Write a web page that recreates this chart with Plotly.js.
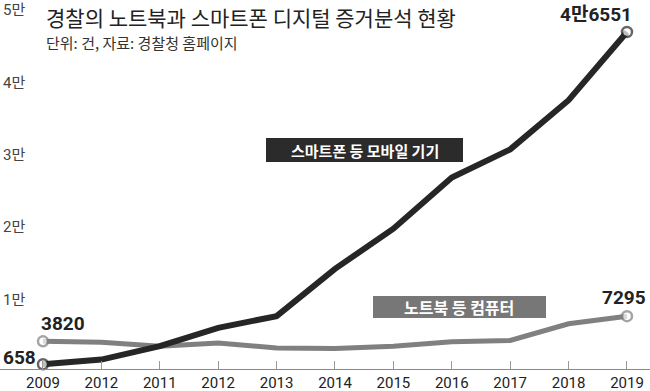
<!DOCTYPE html>
<html>
<head>
<meta charset="utf-8">
<script src="https://cdn.plot.ly/plotly-3.0.1.min.js"></script>
<style>html,body{margin:0;padding:0;background:#fff;}#chart{width:650px;height:391px;}</style>
</head>
<body>
<div id="chart"></div>
<script>
// ---- data ----
const yearLabels = ["2009","2012","2011","2012","2013","2014","2015","2016","2017","2018","2019"];
const mobileCounts = [658, 1300, 3150, 5690, 7300, 13830, 19380, 26450, 30330, 37130, 46551];
const computerCounts = [3820, 3700, 3150, 3600, 2900, 2830, 3150, 3750, 3940, 6240, 7295];
const yTickValues = [10000, 20000, 30000, 40000, 50000];
const yTickLabels = ["1만", "2만", "3만", "4만", "5만"];
const titleText = "경찰의 노트북과 스마트폰 디지털 증거분석 현황";
const subtitleText = "단위: 건, 자료: 경찰청 홈페이지";
const mobileName = "스마트폰 등 모바일 기기";
const computerName = "노트북 등 컴퓨터";

const idx = yearLabels.map((_, i) => i);
const last = idx.length - 1;
const BLACK = "#262626", GRAY = "#808080";
const NUM_FONT = "'Roboto', 'Liberation Sans', 'Noto Sans CJK KR', sans-serif";
const KR_FONT = "'Noto Sans CJK KR', 'Noto Sans', sans-serif";

function fmtMan(v) {
  const man = Math.floor(v / 10000), rest = v % 10000;
  return man > 0 ? man + "만" + rest : String(rest);
}

// only endpoints get markers
function endMarkers(n) { return idx.map(i => (i === 0 || i === n) ? 10 : 0); }

const traces = [
  {
    x: idx, y: computerCounts, type: "scatter", mode: "lines+markers",
    line: {color: GRAY, width: 5}, cliponaxis: false,
    marker: {size: endMarkers(last), color: "#ffffff", line: {color: GRAY, width: 2.5}},
    hoverinfo: "skip", name: computerName
  },
  {
    x: idx, y: mobileCounts, type: "scatter", mode: "lines+markers",
    line: {color: BLACK, width: 6}, cliponaxis: false,
    marker: {size: endMarkers(last), color: "#ffffff", line: {color: BLACK, width: 2.5}},
    hoverinfo: "skip", name: mobileName
  }
];

// plot area: x 0..650, y 0..369 ; value 0 at y=369, 50000 at y=7
const PB = 369, PH = PB;
const px = v => v / 650;
const py = v => (PB - v) / PH;
const yTop = 50000 * PB / (PB - 7);

const layout = {
  width: 650, height: 391,
  margin: {l: 0, r: 0, t: 0, b: 391 - PB},
  paper_bgcolor: "#ffffff", plot_bgcolor: "#ffffff",
  showlegend: false,
  xaxis: {
    range: [-0.736, 10.394], tickmode: "array", tickvals: idx, ticktext: yearLabels,
    showgrid: false, zeroline: false, showline: true, linecolor: "#8a8a8a", linewidth: 1,
    ticks: "inside", ticklen: 8, tickcolor: "#9a9a9a", tickwidth: 1,
    tickfont: {family: NUM_FONT, size: 15, color: "#222"}, fixedrange: true
  },
  yaxis: {
    range: [0, yTop], tickmode: "array", tickvals: yTickValues, ticktext: yTickLabels,
    showgrid: false, zeroline: false, showline: false, ticks: "",
    ticklabelposition: "inside", ticklabelshift: 3,
    tickfont: {family: NUM_FONT, size: 15, color: "#444"}, fixedrange: true
  },
  shapes: [
    {type: "rect", xref: "paper", yref: "paper", x0: px(266), x1: px(463), y0: py(162), y1: py(138),
     fillcolor: "#2b2b2b", line: {width: 0}, layer: "below"},
    {type: "rect", xref: "paper", yref: "paper", x0: px(373), x1: px(546), y0: py(318), y1: py(296),
     fillcolor: "#777777", line: {width: 0}, layer: "below"}
  ],
  annotations: [
    {xref: "paper", yref: "paper", x: px(44), y: py(17), xanchor: "left", yanchor: "middle",
     text: titleText, showarrow: false, font: {family: KR_FONT, size: 21, color: "#222"}},
    {xref: "paper", yref: "paper", x: px(44), y: py(43), xanchor: "left", yanchor: "middle",
     text: subtitleText, showarrow: false, font: {family: KR_FONT, size: 15, color: "#333"}},
    {xref: "paper", yref: "paper", x: px(364.5), y: py(150), xanchor: "center", yanchor: "middle",
     text: "<b>" + mobileName + "</b>", showarrow: false, font: {family: KR_FONT, size: 15, color: "#fff"}},
    {xref: "paper", yref: "paper", x: px(459.5), y: py(307), xanchor: "center", yanchor: "middle",
     text: "<b>" + computerName + "</b>", showarrow: false, font: {family: KR_FONT, size: 16, color: "#fff"}},
    // value labels from data
    {xref: "x", yref: "y", x: 0, y: mobileCounts[0], xanchor: "right", yanchor: "middle", xshift: -5, yshift: 7,
     text: "<b>" + fmtMan(mobileCounts[0]) + "</b>", showarrow: false, font: {family: NUM_FONT, size: 19, color: "#222"}},
    {xref: "x", yref: "y", x: 0, y: computerCounts[0], xanchor: "left", yanchor: "bottom", xshift: -4, yshift: 4,
     text: "<b>" + fmtMan(computerCounts[0]) + "</b>", showarrow: false, font: {family: NUM_FONT, size: 19, color: "#222"}},
    {xref: "x", yref: "y", x: last, y: computerCounts[last], xanchor: "center", yanchor: "bottom", xshift: -3, yshift: 5,
     text: "<b>" + fmtMan(computerCounts[last]) + "</b>", showarrow: false, font: {family: NUM_FONT, size: 19, color: "#222"}},
    {xref: "x", yref: "y", x: last, y: mobileCounts[last], xanchor: "right", yanchor: "bottom", xshift: 7, yshift: 4,
     text: "<b>" + fmtMan(mobileCounts[last]) + "</b>", showarrow: false, font: {family: NUM_FONT, size: 19, color: "#222"}}
  ]
};

Plotly.newPlot("chart", traces, layout, {displayModeBar: false, staticPlot: true});
</script>
</body>
</html>
